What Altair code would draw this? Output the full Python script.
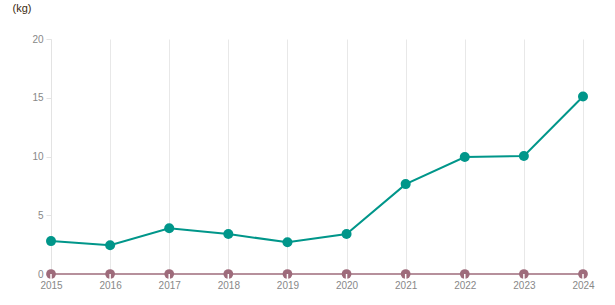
import altair as alt
import pandas as pd

years = [2015, 2016, 2017, 2018, 2019, 2020, 2021, 2022, 2023, 2024]
series_a = [2.8, 2.45, 3.9, 3.4, 2.7, 3.4, 7.65, 9.95, 10.05, 15.1]
series_b = [0, 0, 0, 0, 0, 0, 0, 0, 0, 0]

df_a = pd.DataFrame({"year": years, "value": series_a})
df_b = pd.DataFrame({"year": years, "value": series_b})

grid_vals = [2015 + 0.5 * i for i in range(19)]

TEAL = "#00968a"
MAUVE = "#9e6b7b"
FONT = "Liberation Sans"

x_enc = alt.X(
    "year:Q",
    scale=alt.Scale(domain=[2015, 2024], nice=False, zero=False),
    axis=alt.Axis(
        values=grid_vals,
        labelExpr="datum.value % 1 == 0 ? datum.value : ''",
        format="d",
        grid=True,
        gridColor="#e8e8e8",
        gridWidth=1,
        ticks=False,
        domain=False,
        labelFlush=False,
        labelColor="#888888",
        labelFontSize=10,
        labelFont=FONT,
        labelPadding=6,
        title=None,
    ),
)

y_enc = alt.Y(
    "value:Q",
    scale=alt.Scale(domain=[0, 20], nice=False),
    axis=alt.Axis(
        values=[0, 5, 10, 15, 20],
        grid=False,
        domain=True,
        domainColor="#e3e3e3",
        ticks=True,
        tickColor="#e3e3e3",
        tickSize=5,
        labelColor="#888888",
        labelFontSize=10,
        labelFont=FONT,
        labelPadding=3,
        title="(kg)",
        titleAngle=0,
        titleAlign="left",
        titleBaseline="top",
        titleX=-39,
        titleY=-37,
        titleFont=FONT,
        titleFontSize=11,
        titleFontWeight="normal",
        titleColor="#3a2a10",
    ),
)

line_b = alt.Chart(df_b).mark_line(color=MAUVE, strokeWidth=1.5).encode(x=x_enc, y=y_enc)
pts_b = alt.Chart(df_b).mark_point(filled=True, color=MAUVE, size=95, opacity=1).encode(x="year:Q", y="value:Q")
tick_b = alt.Chart(df_b).mark_rule(color="#ffffff", strokeWidth=1.5).encode(
    x="year:Q", y="value:Q", y2=alt.value(241)
)
line_a = alt.Chart(df_a).mark_line(color=TEAL, strokeWidth=2).encode(x="year:Q", y="value:Q")
pts_a = alt.Chart(df_a).mark_point(filled=True, color=TEAL, size=100, opacity=1).encode(x="year:Q", y="value:Q")

chart = (
    alt.layer(line_b, pts_b, tick_b, line_a, pts_a)
    .properties(
        width=532,
        height=235,
        autosize=alt.AutoSizeParams(type="none"),
        padding={"left": 51, "top": 39, "right": 32, "bottom": 31},
        background="#ffffff",
    )
    .configure_view(stroke="transparent", strokeWidth=0)
)

chart.save("out.html", embed_options={"renderer": "svg", "actions": False})
